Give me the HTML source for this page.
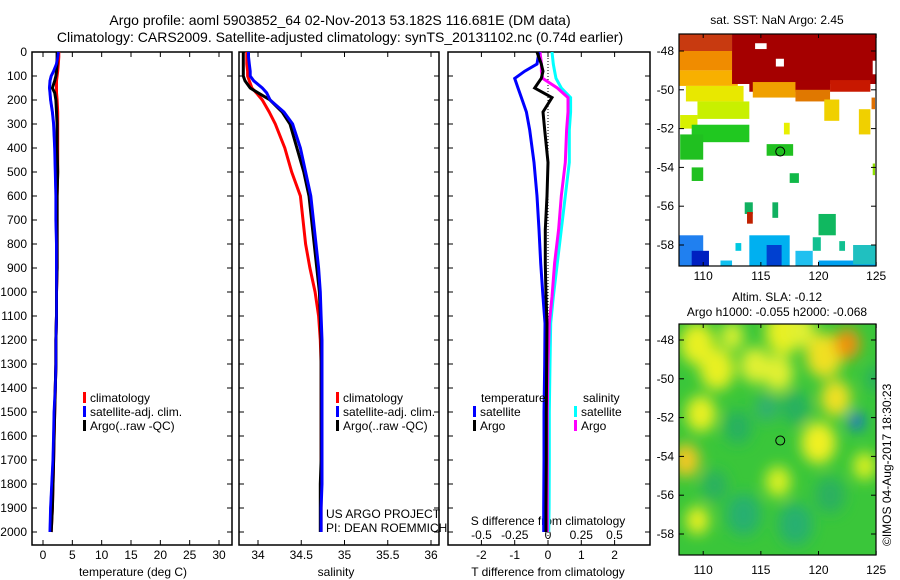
<!DOCTYPE html>
<html><head><meta charset="utf-8">
<style>
html,body{margin:0;padding:0;background:#fff;}
svg{display:block;font-family:"Liberation Sans",sans-serif;}
text{fill:#000;}
</style></head>
<body>
<svg id="c" width="900" height="580" viewBox="0 0 900 580" xmlns="http://www.w3.org/2000/svg">
<defs>
<filter id="blur" x="-20%" y="-20%" width="140%" height="140%"><feGaussianBlur stdDeviation="7"/></filter>
<clipPath id="clipTop"><rect x="679" y="34" width="197" height="232"/></clipPath>
<clipPath id="clipBot"><rect x="679" y="324" width="197" height="231"/></clipPath>
</defs>
<text x="340" y="25" text-anchor="middle" font-size="14">Argo profile: aoml 5903852_64 02-Nov-2013 53.182S 116.681E (DM data)</text>
<text x="340" y="42" text-anchor="middle" font-size="14">Climatology: CARS2009. Satellite-adjusted climatology: synTS_20131102.nc (0.74d earlier)</text>
<g id="g"></g>
</svg>
<script>
// ---------- data ----------
const depths = [0,20,50,80,100,120,150,170,200,250,300,400,500,600,700,800,900,1000,1100,1200,1300,1400,1500,1600,1700,1800,1900,2000];
const climT = [2.7,2.7,2.6,2.5,2.4,2.3,2.3,2.3,2.4,2.5,2.5,2.5,2.5,2.4,2.4,2.4,2.4,2.3,2.3,2.2,2.2,2.1,2.0,1.9,1.8,1.7,1.6,1.4];
const satT  = [2.6,2.5,2.3,1.8,1.4,1.2,1.1,1.2,1.3,1.6,1.8,2.0,2.1,2.2,2.2,2.3,2.3,2.3,2.3,2.2,2.2,2.1,1.9,1.8,1.7,1.5,1.3,1.2];
const argoT = [2.4,2.4,2.4,2.3,2.2,2.0,1.6,2.0,2.2,2.3,2.4,2.4,2.5,2.4,2.4,2.4,2.4,2.3,2.3,2.2,2.2,2.1,2.0,1.9,1.8,1.7,1.6,1.4];
const climS = [33.87,33.87,33.87,33.88,33.88,33.9,33.93,33.98,34.05,34.13,34.2,34.31,34.39,34.49,34.52,34.55,34.6,34.66,34.7,34.72,34.73,34.73,34.73,34.73,34.73,34.73,34.73,34.73];
const satS  = [33.89,33.89,33.9,33.91,33.91,33.95,34.05,34.1,34.14,34.3,34.4,34.49,34.55,34.61,34.64,34.67,34.7,34.72,34.73,34.74,34.74,34.74,34.74,34.74,34.74,34.74,34.73,34.73];
const argoS = [33.83,33.83,33.83,33.83,33.83,33.85,33.91,34.0,34.14,34.28,34.37,34.45,34.53,34.59,34.62,34.65,34.68,34.71,34.72,34.73,34.73,34.73,34.73,34.73,34.73,34.72,34.72,34.72];
const diffDepths = [0,50,80,110,150,190,250,325,460,600,740,880,1020,1130,1300,1500,1700,1900,2000];
const dSatT  = [-0.27,-0.33,-0.7,-1.0,-0.9,-0.8,-0.65,-0.55,-0.42,-0.33,-0.27,-0.22,-0.15,-0.09,-0.1,-0.12,-0.12,-0.13,-0.13];
const dArgoT = [-0.33,-0.2,-0.15,-0.2,-0.4,0.12,-0.15,-0.1,0,-0.03,-0.08,-0.08,-0.06,-0.03,-0.04,-0.05,-0.05,-0.06,-0.06];
const dSatS  = [0.03,0.04,0.05,0.06,0.1,0.17,0.17,0.16,0.16,0.13,0.10,0.07,0.04,0.02,0.015,0.01,0.01,0.008,0.005];
const dArgoS = [-0.06,-0.05,-0.05,-0.04,0.07,0.15,0.15,0.14,0.13,0.10,0.08,0.05,0.03,0.01,0,-0.005,-0.005,-0.005,-0.005];
const depthTicks = [0,100,200,300,400,500,600,700,800,900,1000,1100,1200,1300,1400,1500,1600,1700,1800,1900,2000];
const tempTicks = [0,5,10,15,20,25,30];
const salTicks = [34,34.5,35,35.5,36];
const salTickLabels = ["34","34.5","35","35.5","36"];
const tdTicks = [-2,-1,0,1,2];
const sdTicks = [-0.5,-0.25,0,0.25,0.5];
const sdTickLabels = ["-0.5","-0.25","0","0.25","0.5"];
const latTicks = [-48,-50,-52,-54,-56,-58];
const lonTicks = [110,115,120,125];
const argoLon = 116.681, argoLat = -53.182;
// SST patches: lon0, lat0, lon1, lat1
const sstBoxes = [[107.9,-47.1,112.5,-48.0],[107.9,-48,112.5,-49],[107.9,-49,113,-49.8],[112.5,-47.1,125.1,-49.7],[114,-49.5,121,-50.1],[121,-49.5,124.5,-50.1],
[108.5,-49.8,113.5,-50.6],[109.5,-50.6,114,-51.5],[108,-51.3,109.5,-52],[109,-51.8,114,-52.7],[108,-52.3,110,-53.6],
[114.3,-49.6,118,-50.4],[118,-50,121,-50.6],[120.5,-50.5,121.8,-51.6],[123.5,-51,124.5,-52.3],[117,-51.7,117.5,-52.3],
[115.5,-52.8,117.8,-53.4],[109,-54,110,-54.7],[117.5,-54.3,118.3,-54.8],[116,-55.8,116.5,-56.6],[120,-56.4,121.5,-57.5],[113.6,-55.8,114.3,-56.4],
[107.9,-57.5,110,-59.1],[109,-58.3,110.5,-59.1],[114,-57.5,117.5,-59.1],[115.5,-58,116.8,-59.1],[118,-58.3,119.5,-59.1],[120,-58.8,125.1,-59.1],[123,-58,125.1,-59],[111.5,-58.8,112.5,-59.1],[112.8,-57.9,113.3,-58.3],[119.5,-57.6,120.2,-58.3],[121.8,-57.8,122.3,-58.3],
[113.8,-56.3,114.3,-56.9],[114.5,-47.6,115.5,-47.9],[116.3,-48.4,117,-48.8],[124.7,-48.5,125.1,-49.2],[124.6,-50.4,124.9,-51],[124.7,-53.8,124.9,-54.4]];
const sstColors = ["#c83a10","#f08c00","#f8b000","#a50000","#a50000","#c81800",
"#e8e800","#c8f000","#d8f000","#20c820","#20c020",
"#f0a000","#e07800","#f0d000","#f0d000","#e8f000",
"#20c020","#20c020","#10b848","#10b060","#10b860","#10b060",
"#2080f0","#0020c0","#00b0f0","#0040d0","#20c0f0","#00a0f0","#20c0c0","#10c0f0","#00c8e0","#10c090","#10c090",
"#c02000","#ffffff","#ffffff","#ffffff","#e07000","#90e000"];
// SLA blobs: lon, lat, radius(deg lon)
const slaLon = [109.5,111.2,114.5,117,116.5,120.5,121.5,120,108.5,109.8,116.5,109.5,124,113,118,122.5,123.3,113.5,118,121,111,125,115.5,118.5,112.5];
const slaLat = [-48.2,-49.5,-49.3,-47.6,-49.7,-48.8,-51,-53.3,-54.2,-51.8,-55.3,-57.3,-54.5,-52.5,-51.5,-48.2,-52.2,-57,-57.5,-56,-55.5,-50,-51.5,-47.5,-47.8];
const slaR   = [1.5,1.5,1.3,1.6,1.3,1.6,1.3,1.5,1.2,1.3,1.1,1.0,1.0,1.2,1.2,1.1,0.6,1.5,1.5,1.3,1.1,0.9,1.0,1.2,1.0];
const slaCol = ["#e8f020","#e8f020","#e0f030","#e8f020","#e0f030","#f0e020","#f0e020","#f0f020","#f0c820","#e8f020","#d8f020","#e8f020","#d8f020","#28b060","#28b060","#f09010","#1060f0","#28b070","#28b070","#2cb060","#2cb060","#2cb060","#30b070","#e0f030","#d8f030"];

// ---------- helpers ----------
const NS="http://www.w3.org/2000/svg";
const G=document.getElementById('g');
function mk(tag,attrs,parent){const e=document.createElementNS(NS,tag);for(const k in attrs)e.setAttribute(k,attrs[k]);(parent||G).appendChild(e);return e;}
function txt(x,y,s,size,anchor,parent){const e=mk('text',{x:x,y:y,'font-size':size||12,'text-anchor':anchor||'start'},parent);e.textContent=s;return e;}
const yD = d => 52 + d*0.24;
const xT = t => 43 + t*5.867;
const xS = s => 258 + (s-34)*86.5;
const xTD = t => 548 + t*33.3;
const xSD = s => 548 + s*133;
const mapX = l => 679 + (l-107.9)*11.53;
const topY = la => 51 + (-48-la)*19.4;
const botY = la => 340 + (-48-la)*19.4;

function line(xs,ys,fx,color,w,name){
  const pts=xs.map((v,i)=>fx(v).toFixed(1)+','+yD(ys[i]).toFixed(1)).join(' ');
  const p=mk('polyline',{points:pts,fill:'none',stroke:color,'stroke-width':w||3,'stroke-linejoin':'miter'});
  
  
}
function panel(x0,x1,name){
  const r=mk('rect',{x:x0,y:52,width:x1-x0,height:493,fill:'none',stroke:'#000','stroke-width':1.5});
  
  
  depthTicks.forEach(d=>{mk('line',{x1:x0,x2:x0+5,y1:yD(d),y2:yD(d),stroke:'#000'});mk('line',{x1:x1,x2:x1-5,y1:yD(d),y2:yD(d),stroke:'#000'});});
}
function xticks(vals,fx,labels,ylab,size){
  vals.forEach((v,i)=>{const x=fx(v);mk('line',{x1:x,x2:x,y1:52,y2:57,stroke:'#000'});mk('line',{x1:x,x2:x,y1:545,y2:540,stroke:'#000'});
    const t=txt(x,ylab,labels[i],size||12,'middle');});
}
function legend(x,y,color,label){
  mk('rect',{x:x,y:y-10,width:3,height:11,fill:color});
  const t=txt(x+7,y,label,12);
}

// ---------- panel 1: temperature ----------
panel(32,232,'temperature-panel');
depthTicks.forEach(d=>{const t=txt(27,yD(d)+4,String(d),12,'end');});
xticks(tempTicks,xT,tempTicks.map(String),559);
txt(133,576,'temperature (deg C)',12,'middle');
line(climT,depths,xT,'#ff0000',3,'temp-climatology-line');
line(satT,depths,xT,'#0000ff',3,'temp-satellite-line');
line(argoT,depths,xT,'#000000',3,'temp-argo-line');
line(satT,depths,xT,'#0000ff',2.5,'temp-satellite-line-top');
legend(83,402,'#ff0000','climatology');
legend(83,416,'#0000ff','satellite-adj. clim.');
legend(83,430,'#000000','Argo(..raw -QC)');

// ---------- panel 2: salinity ----------
panel(239,439,'salinity-panel');
xticks(salTicks,xS,salTickLabels,559);
txt(336,576,'salinity',12,'middle');
line(climS,depths,xS,'#ff0000',3,'sal-climatology-line');
line(argoS,depths,xS,'#000000',3,'sal-argo-line');
line(satS,depths,xS,'#0000ff',3,'sal-satellite-line');
legend(336,402,'#ff0000','climatology');
legend(336,416,'#0000ff','satellite-adj. clim.');
legend(336,430,'#000000','Argo(..raw -QC)');
txt(326,518,'US ARGO PROJECT',12);
txt(326,532,'PI: DEAN ROEMMICH',12);

// ---------- panel 3: differences ----------
panel(448,650,'difference-panel');
mk('line',{x1:548,x2:548,y1:52,y2:545,stroke:'#000','stroke-dasharray':'1,2'});
xticks(tdTicks,xTD,tdTicks.map(String),559);
sdTicks.forEach((v,i)=>{txt(xSD(v),539,sdTickLabels[i],12,'middle');});
txt(548,525,'S difference from climatology',12,'middle');
txt(548,576,'T difference from climatology',12,'middle');
line(dSatS,diffDepths,xSD,'#00ffff',3,'sdiff-satellite-line');
line(dArgoS,diffDepths,xSD,'#ff00ff',3,'sdiff-argo-line');
line(dSatT,diffDepths,xTD,'#0000ff',3,'tdiff-satellite-line');
line(dArgoT,diffDepths,xTD,'#000000',3,'tdiff-argo-line');
txt(481,402,'temperature',12);
txt(583,402,'salinity',12);
legend(473,416,'#0000ff','satellite');
legend(473,430,'#000000','Argo');
legend(574,416,'#00ffff','satellite');
legend(574,430,'#ff00ff','Argo');

// ---------- maps ----------
function mapAxes(y0,y1,fy,labY,name){
  const r=mk('rect',{x:679,y:y0,width:197,height:y1-y0,fill:'none',stroke:'#000','stroke-width':1.2});
  
  
  latTicks.forEach(la=>{const y=fy(la);mk('line',{x1:679,x2:684,y1:y,y2:y,stroke:'#000'});mk('line',{x1:876,x2:871,y1:y,y2:y,stroke:'#000'});
    txt(674,y+4,String(la),12,'end');});
  lonTicks.forEach(l=>{const x=mapX(l);mk('line',{x1:x,x2:x,y1:y0,y2:y0+4,stroke:'#000'});mk('line',{x1:x,x2:x,y1:y1,y2:y1-4,stroke:'#000'});
    txt(x,labY,String(l),12,'middle');});
}
// top SST map
const gt=mk('g',{'clip-path':'url(#clipTop)'});


sstBoxes.forEach((b,i)=>{
  const x0=mapX(b[0]),x1=mapX(b[2]),y0=topY(b[1]),y1=topY(b[3]);
  const r=mk('rect',{x:x0,y:y0,width:x1-x0,height:y1-y0,fill:sstColors[i]},gt);
  
  
});
mk('circle',{cx:mapX(argoLon),cy:topY(argoLat),r:4.5,fill:'#20c020',stroke:'#000','stroke-width':1});
mapAxes(34,266,topY,280,'sst-map-frame');
txt(777,24,'sat. SST: NaN Argo: 2.45',12,'middle');

// bottom SLA map
const gb=mk('g',{'clip-path':'url(#clipBot)'});


mk('rect',{x:679,y:324,width:197,height:231,fill:'#3ac63a'},gb);
const gbl=mk('g',{filter:'url(#blur)'},gb);
slaLon.forEach((l,i)=>{
  const e=mk('ellipse',{cx:mapX(l),cy:botY(slaLat[i]),rx:slaR[i]*11.53,ry:slaR[i]*14,fill:slaCol[i]},gbl);
  
  
});
mk('circle',{cx:mapX(argoLon),cy:botY(argoLat),r:4.5,fill:'none',stroke:'#000','stroke-width':1});
mapAxes(324,555,botY,574,'sla-map-frame');
txt(777,301,'Altim. SLA: -0.12',12,'middle');
txt(777,316,'Argo h1000: -0.055 h2000: -0.068',12,'middle');
const cr=txt(0,0,'©IMOS 04-Aug-2017 18:30:23',12,'start');
cr.setAttribute('transform','translate(891,546) rotate(-90)');


</script>
</body></html>
